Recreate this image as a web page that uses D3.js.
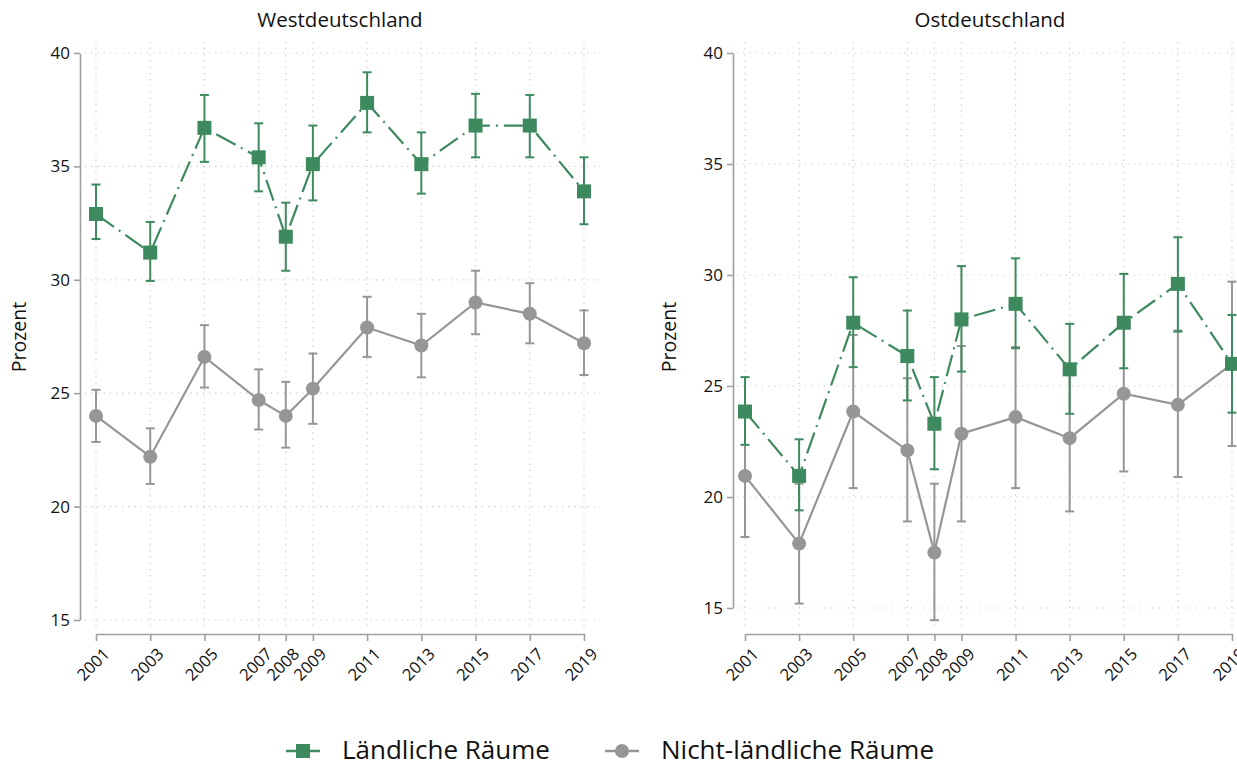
<!DOCTYPE html>
<meta charset="utf-8" />
<title>Ländliche Räume – West/Ost</title>
<style>
  body { margin: 0; background: #fff; }
  svg { display: block; }
  text { font-family: "Open Sans", "Noto Sans", sans-serif; fill: #111; }
  .grid line { stroke: #c8c8c8; stroke-width: 1.2px; stroke-dasharray: 1.2 5; }
  .axis path, .axis line { stroke: #a0a0a0; stroke-width: 1.6px; }
  .axis text { fill: #111; }
</style>
<body>
<svg width="1237" height="765"></svg>
<script src="https://d3js.org/d3.v7.min.js"></script>
<script>
const svg = d3.select("svg");

const green = "#3d8a5e", grey = "#969696";

const years = [2001, 2003, 2005, 2007, 2008, 2009, 2011, 2013, 2015, 2017, 2019];
const yTicks = [15, 20, 25, 30, 35, 40];

// Westdeutschland
const westRural = [32.9, 31.2, 36.7, 35.4, 31.9, 35.1, 37.8, 35.1, 36.8, 36.8, 33.9];
const westRuralLo = [31.8, 29.95, 35.2, 33.9, 30.4, 33.5, 36.5, 33.8, 35.4, 35.4, 32.45];
const westRuralHi = [34.2, 32.55, 38.15, 36.9, 33.4, 36.8, 39.15, 36.5, 38.2, 38.15, 35.4];
const westUrban = [24.0, 22.2, 26.6, 24.7, 24.0, 25.2, 27.9, 27.1, 29.0, 28.5, 27.2];
const westUrbanLo = [22.85, 21.0, 25.25, 23.4, 22.6, 23.65, 26.6, 25.7, 27.6, 27.2, 25.8];
const westUrbanHi = [25.15, 23.45, 28.0, 26.05, 25.5, 26.75, 29.25, 28.5, 30.4, 29.85, 28.65];

// Ostdeutschland
const eastRural = [23.85, 20.95, 27.85, 26.35, 23.3, 28.0, 28.7, 25.75, 27.85, 29.6, 26.0];
const eastRuralLo = [22.35, 19.4, 25.85, 24.35, 21.25, 25.65, 26.7, 23.75, 25.8, 27.45, 23.8];
const eastRuralHi = [25.4, 22.6, 29.9, 28.4, 25.4, 30.4, 30.75, 27.8, 30.05, 31.7, 28.2];
const eastUrban = [20.95, 17.9, 23.85, 22.1, 17.5, 22.85, 23.6, 22.65, 24.65, 24.15, 26.0];
const eastUrbanLo = [18.2, 15.2, 20.4, 18.9, 14.45, 18.9, 20.4, 19.35, 21.15, 20.9, 22.3];
const eastUrbanHi = [23.7, 20.6, 27.3, 25.35, 20.6, 26.8, 26.75, 26.0, 28.1, 27.5, 29.7];

const panels = [
  { title: "Westdeutschland", x0: 96, x1: 584, y0: 620, y1: 53, axisX: 80, gx0: 85, gx1: 600, titleX: 340, labelX: 26,
    rural: westRural, ruralLo: westRuralLo, ruralHi: westRuralHi,
    urban: westUrban, urbanLo: westUrbanLo, urbanHi: westUrbanHi },
  { title: "Ostdeutschland", x0: 745, x1: 1232, y0: 608, y1: 53, axisX: 733, gx0: 737, gx1: 1240, titleX: 990, labelX: 676,
    rural: eastRural, ruralLo: eastRuralLo, ruralHi: eastRuralHi,
    urban: eastUrban, urbanLo: eastUrbanLo, urbanHi: eastUrbanHi }
];

panels.forEach(p => {
  const x = d3.scaleLinear().domain([2001, 2019]).range([p.x0, p.x1]);
  const y = d3.scaleLinear().domain([15, 40]).range([p.y0, p.y1]);
  const g = svg.append("g");

  // grid
  const grid = g.append("g").attr("class", "grid");
  grid.selectAll(".h").data(yTicks).join("line")
    .attr("x1", p.gx0).attr("x2", p.gx1)
    .attr("y1", d => y(d)).attr("y2", d => y(d));
  grid.selectAll(".v").data(years).join("line")
    .attr("x1", d => x(d)).attr("x2", d => x(d))
    .attr("y1", 42).attr("y2", 628);

  // axes
  g.append("g").attr("class", "axis")
    .attr("transform", `translate(${p.axisX},0)`)
    .call(d3.axisLeft(y).tickValues(yTicks).tickSize(6).tickSizeOuter(0).tickPadding(4))
    .selectAll("text").style("font-size", "17px");

  const xa = g.append("g").attr("class", "axis")
    .attr("transform", "translate(0,634)")
    .call(d3.axisBottom(x).tickValues(years).tickFormat(d3.format("d")).tickSize(7).tickSizeOuter(0));
  xa.selectAll("text")
    .style("font-size", "16.5px")
    .attr("text-anchor", "end")
    .attr("dx", 0).attr("dy", 0)
    .attr("transform", "translate(7,14) rotate(-45)");

  // titles
  g.append("text").attr("x", p.titleX).attr("y", 27)
    .attr("text-anchor", "middle").style("font-size", "20.5px").text(p.title);
  g.append("text")
    .attr("transform", `translate(${p.labelX},${337}) rotate(-90)`)
    .attr("text-anchor", "middle").style("font-size", "19.5px").text("Prozent");

  const series = [
    { v: p.urban, lo: p.urbanLo, hi: p.urbanHi, color: grey, dash: null, shape: "circle" },
    { v: p.rural, lo: p.ruralLo, hi: p.ruralHi, color: green, dash: "22 6 2 6", shape: "square" }
  ];

  series.forEach(s => {
    const pts = years.map((yr, i) => ({ yr, v: s.v[i], lo: s.lo[i], hi: s.hi[i] }));
    const sg = g.append("g");
    sg.append("path").datum(pts)
      .attr("fill", "none").attr("stroke", s.color).attr("stroke-width", 2.2)
      .attr("stroke-dasharray", s.dash)
      .attr("d", d3.line().x(d => x(d.yr)).y(d => y(d.v)));

    const eb = sg.selectAll(".eb").data(pts).join("g").attr("stroke", s.color).attr("stroke-width", 2);
    eb.append("line").attr("x1", d => x(d.yr)).attr("x2", d => x(d.yr))
      .attr("y1", d => y(d.lo)).attr("y2", d => y(d.hi));
    eb.append("line").attr("x1", d => x(d.yr) - 4.5).attr("x2", d => x(d.yr) + 4.5)
      .attr("y1", d => y(d.lo)).attr("y2", d => y(d.lo));
    eb.append("line").attr("x1", d => x(d.yr) - 4.5).attr("x2", d => x(d.yr) + 4.5)
      .attr("y1", d => y(d.hi)).attr("y2", d => y(d.hi));

    if (s.shape === "square") {
      sg.selectAll(".m").data(pts).join("rect")
        .attr("x", d => x(d.yr) - 7).attr("y", d => y(d.v) - 7)
        .attr("width", 14).attr("height", 14).attr("fill", s.color);
    } else {
      sg.selectAll(".m").data(pts).join("circle")
        .attr("cx", d => x(d.yr)).attr("cy", d => y(d.v))
        .attr("r", 7).attr("fill", s.color);
    }
  });
});

// legend
const legend = [
  { label: "Ländliche Räume", color: green, shape: "square", x: 286 },
  { label: "Nicht-ländliche Räume", color: grey, shape: "circle", x: 605 }
];
const lg = svg.append("g").selectAll("g").data(legend).join("g")
  .attr("transform", d => `translate(${d.x},751)`);
lg.append("line").attr("x1", 0).attr("x2", 34).attr("y1", 0).attr("y2", 0)
  .attr("stroke", d => d.color).attr("stroke-width", 2.5);
lg.filter(d => d.shape === "square").append("rect")
  .attr("x", 10).attr("y", -7).attr("width", 14).attr("height", 14).attr("fill", d => d.color);
lg.filter(d => d.shape === "circle").append("circle")
  .attr("cx", 17).attr("cy", 0).attr("r", 7).attr("fill", d => d.color);
lg.append("text").attr("x", 56).attr("y", 8).style("font-size", "26px").text(d => d.label);
</script>
</body>
